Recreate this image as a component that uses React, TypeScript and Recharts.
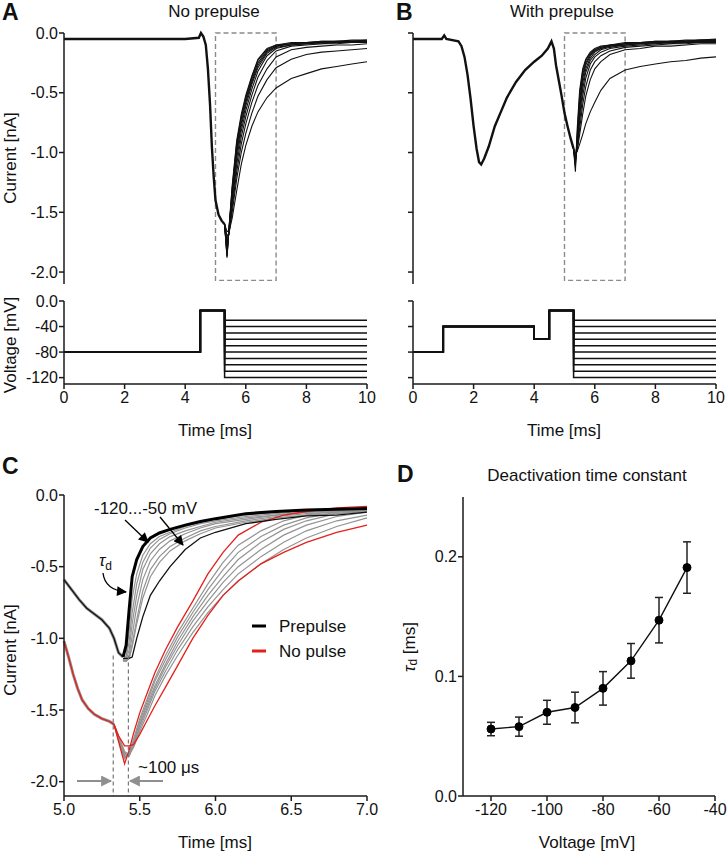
import React from "react"
import {
    LineChart,
    Line,
    XAxis,
    YAxis,
    ReferenceArea,
    ReferenceLine,
    ErrorBar,
} from "recharts"

const FONT = '"Liberation Sans", Arial, Helvetica, sans-serif'

// test step levels after the conditioning pulse (mV)
const stepLevels = [-120, -110, -100, -90, -80, -70, -60, -50, -40, -30]

// ---- A: no prepulse (current, nA) ----
const aHeadTime = [0, 1, 2, 3, 4, 4.45, 4.52, 4.6, 4.68, 4.75, 4.82, 4.88, 4.94, 5.0, 5.1, 5.2, 5.3]
const aHeadCurrent = [-0.05, -0.05, -0.05, -0.05, -0.05, -0.04, 0.0, -0.03, -0.1, -0.3, -0.6, -0.95, -1.2, -1.4, -1.52, -1.57, -1.6]
const aTailTime = [5.3, 5.38, 5.45, 5.55, 5.7, 5.85, 6.0, 6.2, 6.4, 6.7, 7.0, 7.5, 8.0, 8.5, 9.0, 9.5, 10.0]
const aTails = [
    [-1.6, -1.88, -1.62, -1.28, -0.9, -0.68, -0.52, -0.36, -0.22, -0.13, -0.1, -0.08, -0.08, -0.07, -0.07, -0.06, -0.06],
    [-1.6, -1.87, -1.62, -1.3, -0.92, -0.7, -0.54, -0.37, -0.23, -0.14, -0.1, -0.09, -0.08, -0.07, -0.07, -0.07, -0.06],
    [-1.6, -1.86, -1.63, -1.32, -0.95, -0.72, -0.56, -0.39, -0.25, -0.15, -0.11, -0.09, -0.08, -0.08, -0.07, -0.07, -0.07],
    [-1.6, -1.84, -1.63, -1.34, -0.98, -0.75, -0.58, -0.41, -0.27, -0.16, -0.11, -0.09, -0.09, -0.08, -0.08, -0.07, -0.07],
    [-1.6, -1.82, -1.64, -1.36, -1.01, -0.78, -0.61, -0.43, -0.29, -0.17, -0.12, -0.1, -0.09, -0.08, -0.08, -0.08, -0.07],
    [-1.6, -1.8, -1.65, -1.39, -1.05, -0.82, -0.65, -0.47, -0.32, -0.19, -0.13, -0.1, -0.09, -0.09, -0.08, -0.08, -0.08],
    [-1.6, -1.77, -1.66, -1.42, -1.1, -0.87, -0.7, -0.52, -0.37, -0.23, -0.15, -0.11, -0.1, -0.09, -0.09, -0.08, -0.08],
    [-1.6, -1.74, -1.67, -1.46, -1.16, -0.93, -0.76, -0.58, -0.44, -0.3, -0.2, -0.14, -0.12, -0.11, -0.1, -0.1, -0.09],
    [-1.6, -1.7, -1.67, -1.5, -1.22, -1.0, -0.84, -0.67, -0.53, -0.39, -0.29, -0.22, -0.18, -0.16, -0.15, -0.14, -0.13],
    [-1.6, -1.66, -1.66, -1.55, -1.32, -1.1, -0.94, -0.78, -0.66, -0.54, -0.46, -0.38, -0.34, -0.3, -0.28, -0.26, -0.24],
]

// ---- B: with prepulse ----
const bHeadTime = [0, 0.5, 0.95, 1.03, 1.1, 1.5, 1.6, 1.7, 1.8, 1.9, 2.0, 2.1, 2.18, 2.25, 2.35, 2.5, 2.7, 2.9, 3.1, 3.4, 3.7, 4.0, 4.25, 4.45, 4.57, 4.65, 4.72, 4.8, 4.9, 5.0, 5.1, 5.2, 5.3]
const bHeadCurrent = [-0.05, -0.05, -0.05, -0.02, -0.05, -0.07, -0.11, -0.2, -0.35, -0.55, -0.78, -0.97, -1.08, -1.1, -1.05, -0.95, -0.78, -0.66, -0.54, -0.41, -0.31, -0.24, -0.19, -0.13, -0.07, -0.13, -0.27, -0.38, -0.52, -0.67, -0.78, -0.88, -0.97]
const bTailTime = [5.3, 5.36, 5.42, 5.5, 5.6, 5.7, 5.85, 6.0, 6.2, 6.5, 7.0, 7.5, 8.0, 8.5, 9.0, 9.5, 10.0]
const bTails = [
    [-0.97, -1.16, -0.8, -0.48, -0.3, -0.22, -0.16, -0.13, -0.11, -0.1, -0.08, -0.08, -0.07, -0.07, -0.06, -0.06, -0.05],
    [-0.97, -1.12, -0.85, -0.52, -0.32, -0.23, -0.17, -0.14, -0.12, -0.1, -0.09, -0.08, -0.07, -0.07, -0.07, -0.06, -0.06],
    [-0.97, -1.1, -0.88, -0.56, -0.35, -0.25, -0.18, -0.14, -0.12, -0.1, -0.09, -0.08, -0.08, -0.07, -0.07, -0.06, -0.06],
    [-0.97, -1.08, -0.9, -0.6, -0.38, -0.27, -0.19, -0.15, -0.13, -0.11, -0.09, -0.09, -0.08, -0.07, -0.07, -0.07, -0.06],
    [-0.97, -1.07, -0.92, -0.64, -0.42, -0.3, -0.21, -0.16, -0.13, -0.11, -0.1, -0.09, -0.08, -0.08, -0.07, -0.07, -0.06],
    [-0.97, -1.06, -0.94, -0.69, -0.47, -0.33, -0.23, -0.18, -0.14, -0.12, -0.1, -0.09, -0.09, -0.08, -0.08, -0.07, -0.07],
    [-0.97, -1.05, -0.96, -0.74, -0.53, -0.38, -0.26, -0.2, -0.16, -0.13, -0.11, -0.1, -0.09, -0.09, -0.08, -0.08, -0.07],
    [-0.97, -1.04, -0.97, -0.8, -0.6, -0.45, -0.31, -0.24, -0.19, -0.15, -0.12, -0.11, -0.1, -0.09, -0.09, -0.08, -0.08],
    [-0.97, -1.03, -0.98, -0.85, -0.68, -0.53, -0.39, -0.3, -0.24, -0.18, -0.14, -0.13, -0.11, -0.11, -0.1, -0.09, -0.09],
    [-0.97, -1.02, -0.99, -0.93, -0.85, -0.76, -0.66, -0.58, -0.48, -0.38, -0.31, -0.28, -0.26, -0.24, -0.23, -0.21, -0.2],
]

// ---- voltage protocols (step times in ms, levels in mV); the test step follows ----
const aProtoTime = [0, 4.5, 5.3]
const aProtoLevel = [-80, -15]
const bProtoTime = [0, 1, 4, 4.5, 5.3]
const bProtoLevel = [-80, -40, -60, -15]

// ---- C: zoom on the tail currents, 5-7 ms ----
const cPreHeadTime = [5.0, 5.05, 5.1, 5.15, 5.2, 5.25, 5.3, 5.33, 5.36, 5.39]
const cPreHeadCurrent = [-0.59, -0.66, -0.73, -0.79, -0.83, -0.87, -0.93, -1.0, -1.1, -1.13]
const cPreTailTime = [5.39, 5.41, 5.43, 5.45, 5.48, 5.52, 5.57, 5.63, 5.7, 5.8, 5.9, 6.0, 6.2, 6.4, 6.6, 6.8, 7.0]
const cPreFast = [-1.13, -1.05, -0.8, -0.57, -0.45, -0.36, -0.3, -0.265, -0.24, -0.21, -0.185, -0.165, -0.13, -0.115, -0.105, -0.1, -0.095]
const cPreSlow = [-1.14, -1.14, -1.14, -1.13, -1.0, -0.85, -0.7, -0.6, -0.5, -0.38, -0.3, -0.26, -0.2, -0.17, -0.146, -0.14, -0.12]
const cPreMid = [
    [-1.15, -1.12, -0.95, -0.72, -0.55, -0.42, -0.34, -0.29, -0.26, -0.22, -0.19, -0.17, -0.14, -0.12, -0.11, -0.1, -0.1],
    [-1.16, -1.14, -1.02, -0.82, -0.62, -0.47, -0.37, -0.31, -0.27, -0.23, -0.2, -0.18, -0.15, -0.13, -0.11, -0.105, -0.1],
    [-1.16, -1.15, -1.08, -0.9, -0.7, -0.52, -0.41, -0.34, -0.29, -0.25, -0.22, -0.19, -0.16, -0.14, -0.12, -0.11, -0.1],
    [-1.16, -1.16, -1.12, -0.98, -0.78, -0.59, -0.46, -0.38, -0.32, -0.27, -0.23, -0.2, -0.17, -0.14, -0.12, -0.115, -0.105],
    [-1.15, -1.16, -1.14, -1.04, -0.87, -0.67, -0.52, -0.43, -0.36, -0.3, -0.25, -0.22, -0.18, -0.15, -0.13, -0.12, -0.11],
    [-1.15, -1.16, -1.14, -1.06, -0.9, -0.72, -0.57, -0.47, -0.39, -0.32, -0.27, -0.23, -0.19, -0.16, -0.14, -0.13, -0.115],
]
const cNoHeadTime = [5.0, 5.03, 5.06, 5.09, 5.12, 5.16, 5.2, 5.25, 5.3, 5.33]
const cNoHeadCurrent = [-1.02, -1.13, -1.25, -1.35, -1.43, -1.49, -1.53, -1.56, -1.58, -1.6]
const cNoTailTime = [5.33, 5.36, 5.4, 5.43, 5.46, 5.5, 5.55, 5.6, 5.67, 5.75, 5.85, 5.95, 6.05, 6.15, 6.3, 6.45, 6.6, 6.8, 7.0]
const cNoFast = [-1.6, -1.72, -1.875, -1.78, -1.66, -1.52, -1.38, -1.24, -1.08, -0.92, -0.74, -0.55, -0.4, -0.28, -0.19, -0.14, -0.115, -0.09, -0.08]
const cNoSlow = [-1.6, -1.68, -1.75, -1.75, -1.74, -1.67, -1.57, -1.47, -1.34, -1.19, -1.0, -0.84, -0.7, -0.6, -0.48, -0.4, -0.33, -0.26, -0.21]
const cNoMid = [
    [-1.6, -1.71, -1.84, -1.8, -1.7, -1.56, -1.42, -1.28, -1.12, -0.96, -0.79, -0.62, -0.47, -0.35, -0.25, -0.18, -0.14, -0.11, -0.09],
    [-1.6, -1.7, -1.83, -1.81, -1.72, -1.58, -1.44, -1.3, -1.15, -0.99, -0.82, -0.66, -0.52, -0.4, -0.29, -0.21, -0.16, -0.12, -0.1],
    [-1.6, -1.7, -1.82, -1.82, -1.73, -1.6, -1.46, -1.33, -1.18, -1.02, -0.85, -0.7, -0.57, -0.45, -0.33, -0.24, -0.18, -0.13, -0.11],
    [-1.6, -1.69, -1.81, -1.82, -1.74, -1.61, -1.48, -1.35, -1.2, -1.05, -0.88, -0.74, -0.61, -0.5, -0.38, -0.28, -0.21, -0.15, -0.12],
    [-1.6, -1.69, -1.8, -1.82, -1.75, -1.63, -1.5, -1.37, -1.23, -1.08, -0.92, -0.78, -0.66, -0.55, -0.43, -0.33, -0.25, -0.18, -0.14],
    [-1.6, -1.68, -1.79, -1.81, -1.76, -1.65, -1.53, -1.4, -1.26, -1.12, -0.96, -0.82, -0.7, -0.6, -0.48, -0.38, -0.3, -0.22, -0.16],
]

// ---- D: deactivation time constant ----
const dVoltage = [-120, -110, -100, -90, -80, -70, -60, -50]
const dTau = [0.056, 0.058, 0.07, 0.074, 0.09, 0.113, 0.147, 0.191]
const dSem = [0.0056, 0.008, 0.01, 0.0128, 0.014, 0.0145, 0.019, 0.0215]

const pts = (ts: number[], vs: number[]) => ts.map((t, i) => ({ t, v: vs[i] }))

const axisStroke = { stroke: "#1a1a1a", strokeWidth: 1.5 }
const tickStyle = { fontSize: 16, fill: "#111", fontFamily: FONT }
const blank = () => ""
const oneDec = (v: number) => v.toFixed(1)

function CurrentPanel({ left, yw, head, tailTime, tails, labels }: any) {
    return (
        <div style={{ position: "absolute", left, top: 0 }}>
            <LineChart width={yw + 303 + 12} height={300} margin={{ top: 33, right: 12, bottom: 16, left: 0 }}>
                <XAxis type="number" dataKey="t" domain={[0, 10]} hide />
                <YAxis
                    type="number"
                    domain={[-2.1, 0]}
                    ticks={[0, -0.5, -1, -1.5, -2]}
                    width={yw}
                    tickSize={5}
                    tickMargin={1}
                    tickFormatter={labels ? oneDec : blank}
                    axisLine={axisStroke}
                    tickLine={axisStroke}
                    tick={tickStyle}
                />
                <ReferenceArea x1={5} x2={7} y1={0} y2={-2.07} fill="none" stroke="#8a8a8a" strokeWidth={1.4} strokeDasharray="5 3" />
                {tails.map((row: number[], i: number) => (
                    <Line key={i} data={pts(tailTime, row)} dataKey="v" stroke="#111" strokeWidth={1.1} dot={false} isAnimationActive={false} />
                ))}
                <Line data={head} dataKey="v" stroke="#111" strokeWidth={2.4} dot={false} isAnimationActive={false} />
            </LineChart>
        </div>
    )
}

function VoltagePanel({ left, yw, protoTime, protoLevel, labels }: any) {
    return (
        <div style={{ position: "absolute", left, top: 280 }}>
            <LineChart width={yw + 303 + 12} height={140} margin={{ top: 21, right: 12, bottom: 6, left: 0 }}>
                <XAxis
                    type="number"
                    dataKey="t"
                    domain={[0, 10]}
                    ticks={[0, 2, 4, 6, 8, 10]}
                    height={30}
                    tickSize={5}
                    tickMargin={3}
                    axisLine={axisStroke}
                    tickLine={axisStroke}
                    tick={tickStyle}
                />
                <YAxis
                    type="number"
                    domain={[-130, 0]}
                    ticks={[0, -40, -80, -120]}
                    width={yw}
                    tickSize={5}
                    tickMargin={1}
                    tickFormatter={labels ? (v: number) => (v === 0 ? "0.0" : String(v)) : blank}
                    axisLine={axisStroke}
                    tickLine={axisStroke}
                    tick={tickStyle}
                />
                {stepLevels.map((lv) => (
                    <Line
                        key={lv}
                        type="stepAfter"
                        data={pts([...protoTime, 10], [...protoLevel, lv, lv])}
                        dataKey="v"
                        stroke="#111"
                        strokeWidth={1.5}
                        dot={false}
                        isAnimationActive={false}
                    />
                ))}
            </LineChart>
        </div>
    )
}

function ZoomPanel() {
    const grey = "#939393"
    const red = "#e3201b"
    return (
        <div style={{ position: "absolute", left: 0, top: 420 }}>
            <LineChart width={380} height={433} margin={{ top: 75, right: 13, bottom: 27, left: 0 }}>
                <XAxis
                    type="number"
                    dataKey="t"
                    domain={[5, 7]}
                    ticks={[5, 5.5, 6, 6.5, 7]}
                    tickFormatter={oneDec}
                    height={30}
                    tickSize={5}
                    tickMargin={3}
                    axisLine={axisStroke}
                    tickLine={axisStroke}
                    tick={tickStyle}
                />
                <YAxis
                    type="number"
                    domain={[-2.1, 0]}
                    ticks={[0, -0.5, -1, -1.5, -2]}
                    width={64}
                    tickSize={5}
                    tickMargin={1}
                    tickFormatter={oneDec}
                    axisLine={axisStroke}
                    tickLine={axisStroke}
                    tick={tickStyle}
                />
                {cNoMid.map((row, i) => (
                    <Line key={"n" + i} data={pts(cNoTailTime, row)} dataKey="v" stroke={grey} strokeWidth={1.2} dot={false} isAnimationActive={false} />
                ))}
                {cPreMid.map((row, i) => (
                    <Line key={"p" + i} data={pts(cPreTailTime, row)} dataKey="v" stroke={grey} strokeWidth={1.2} dot={false} isAnimationActive={false} />
                ))}
                <Line data={pts(cNoHeadTime, cNoHeadCurrent)} dataKey="v" stroke={grey} strokeWidth={3} dot={false} isAnimationActive={false} />
                <Line data={pts(cNoHeadTime, cNoHeadCurrent)} dataKey="v" stroke={red} strokeWidth={1.3} dot={false} isAnimationActive={false} />
                <Line data={pts(cNoTailTime, cNoSlow)} dataKey="v" stroke={red} strokeWidth={1.3} dot={false} isAnimationActive={false} />
                <Line data={pts(cNoTailTime, cNoFast)} dataKey="v" stroke={red} strokeWidth={1.3} dot={false} isAnimationActive={false} />
                <Line data={pts(cPreHeadTime, cPreHeadCurrent)} dataKey="v" stroke={grey} strokeWidth={3} dot={false} isAnimationActive={false} />
                <Line data={pts(cPreHeadTime, cPreHeadCurrent)} dataKey="v" stroke="#111" strokeWidth={1.3} dot={false} isAnimationActive={false} />
                <Line data={pts(cPreTailTime, cPreSlow)} dataKey="v" stroke="#111" strokeWidth={1.3} dot={false} isAnimationActive={false} />
                <Line data={pts(cPreTailTime, cPreFast)} dataKey="v" stroke="#000" strokeWidth={3} dot={false} isAnimationActive={false} />
                <ReferenceLine segment={[{ x: 5.325, y: -1.12 }, { x: 5.325, y: -2.1 }]} stroke="#777" strokeWidth={1.2} strokeDasharray="4 3" />
                <ReferenceLine segment={[{ x: 5.425, y: -1.12 }, { x: 5.425, y: -2.1 }]} stroke="#777" strokeWidth={1.2} strokeDasharray="4 3" />
            </LineChart>
        </div>
    )
}

function TauPanel() {
    const data = dVoltage.map((v, i) => ({ v, tau: dTau[i], err: dSem[i] }))
    return (
        <div style={{ position: "absolute", left: 364, top: 420 }}>
            <LineChart width={364} height={433} data={data} margin={{ top: 77, right: 13, bottom: 27, left: 0 }}>
                <XAxis
                    type="number"
                    dataKey="v"
                    domain={[-130, -40]}
                    ticks={[-120, -100, -80, -60, -40]}
                    height={30}
                    tickSize={5}
                    tickMargin={3}
                    axisLine={axisStroke}
                    tickLine={axisStroke}
                    tick={tickStyle}
                />
                <YAxis
                    type="number"
                    domain={[0, 0.25]}
                    ticks={[0, 0.1, 0.2]}
                    width={99}
                    tickSize={5}
                    tickMargin={1}
                    tickFormatter={oneDec}
                    axisLine={axisStroke}
                    tickLine={axisStroke}
                    tick={tickStyle}
                />
                <Line
                    dataKey="tau"
                    stroke="#111"
                    strokeWidth={1.4}
                    dot={{ r: 4, fill: "#000", stroke: "#000", strokeWidth: 1 }}
                    isAnimationActive={false}
                >
                    <ErrorBar dataKey="err" direction="y" width={4} stroke="#222" strokeWidth={1.5} />
                </Line>
            </LineChart>
        </div>
    )
}

function Overlay() {
    const t = { fontFamily: FONT, fill: "#111" }
    const lab = { ...t, fontSize: 17 }
    const big = { ...t, fontSize: 23, fontWeight: 700 }
    return (
        <svg width={728} height={853} style={{ position: "absolute", left: 0, top: 0, pointerEvents: "none" }}>
            <defs>
                <marker id="ahBlack" viewBox="0 0 10 10" refX="9" refY="5" markerWidth="11" markerHeight="10" markerUnits="userSpaceOnUse" orient="auto">
                    <path d="M0,0 L10,5 L0,10 z" fill="#000" />
                </marker>
                <marker id="ahGrey" viewBox="0 0 10 10" refX="9" refY="5" markerWidth="13" markerHeight="11" markerUnits="userSpaceOnUse" orient="auto">
                    <path d="M0,0 L10,5 L0,10 z" fill="#8f8f8f" />
                </marker>
            </defs>

            <text x={2} y={20} {...big}>A</text>
            <text x={214} y={17} textAnchor="middle" {...lab}>No prepulse</text>
            <text x={396} y={20} {...big}>B</text>
            <text x={562} y={17} textAnchor="middle" {...lab}>With prepulse</text>
            <text x={10} y={158} transform="rotate(-90 10 158)" textAnchor="middle" dominantBaseline="central" {...lab}>Current [nA]</text>
            <text x={10} y={345} transform="rotate(-90 10 345)" textAnchor="middle" dominantBaseline="central" {...lab}>Voltage [mV]</text>
            <text x={215} y={436} textAnchor="middle" {...lab}>Time [ms]</text>
            <text x={564} y={436} textAnchor="middle" {...lab}>Time [ms]</text>

            <text x={2} y={474} {...big}>C</text>
            <text x={10} y={650} transform="rotate(-90 10 650)" textAnchor="middle" dominantBaseline="central" {...lab}>Current [nA]</text>
            <text x={215} y={848} textAnchor="middle" {...lab}>Time [ms]</text>
            <text x={94} y={514} {...lab}>-120...-50 mV</text>
            <line x1={125} y1={520} x2={148} y2={542} stroke="#000" strokeWidth={1.3} markerEnd="url(#ahBlack)" />
            <line x1={160} y1={517} x2={183} y2={545} stroke="#000" strokeWidth={1.3} markerEnd="url(#ahBlack)" />
            <text x={99} y={566} {...t} fontSize={17} fontStyle="italic">
                τ<tspan dy={4} fontSize={12} fontStyle="normal">d</tspan>
            </text>
            <path d="M103,573 Q105,590 126,592" fill="none" stroke="#000" strokeWidth={1.3} markerEnd="url(#ahBlack)" />
            <text x={138} y={773} {...lab}>~100 μs</text>
            <line x1={77} y1={781} x2={111} y2={781} stroke="#8f8f8f" strokeWidth={2} markerEnd="url(#ahGrey)" />
            <line x1={163} y1={781} x2={130} y2={781} stroke="#8f8f8f" strokeWidth={2} markerEnd="url(#ahGrey)" />
            <line x1={252} y1={626} x2={266} y2={626} stroke="#000" strokeWidth={3} />
            <text x={279} y={632} {...lab}>Prepulse</text>
            <line x1={252} y1={651} x2={266} y2={651} stroke="#e3201b" strokeWidth={3} />
            <text x={279} y={657} {...lab}>No pulse</text>

            <text x={397} y={482} {...big}>D</text>
            <text x={587} y={481} textAnchor="middle" {...lab}>Deactivation time constant</text>
            <text x={409} y={647} transform="rotate(-90 409 647)" textAnchor="middle" dominantBaseline="central" {...lab}>
                <tspan fontStyle="italic">τ</tspan>
                <tspan dy={4} fontSize={12}>d</tspan>
                <tspan dy={-4}> [ms]</tspan>
            </text>
            <text x={587} y={848} textAnchor="middle" {...lab}>Voltage [mV]</text>
        </svg>
    )
}

export default function App() {
    return (
        <div style={{ position: "absolute", left: 0, top: 0, width: 728, height: 853, background: "#fff", fontFamily: FONT }}>
            <CurrentPanel left={0} yw={64} head={pts(aHeadTime, aHeadCurrent)} tailTime={aTailTime} tails={aTails} labels />
            <CurrentPanel left={364} yw={49} head={pts(bHeadTime, bHeadCurrent)} tailTime={bTailTime} tails={bTails} labels={false} />
            <VoltagePanel left={0} yw={64} protoTime={aProtoTime} protoLevel={aProtoLevel} labels />
            <VoltagePanel left={364} yw={49} protoTime={bProtoTime} protoLevel={bProtoLevel} labels={false} />
            <ZoomPanel />
            <TauPanel />
            <Overlay />
        </div>
    )
}
